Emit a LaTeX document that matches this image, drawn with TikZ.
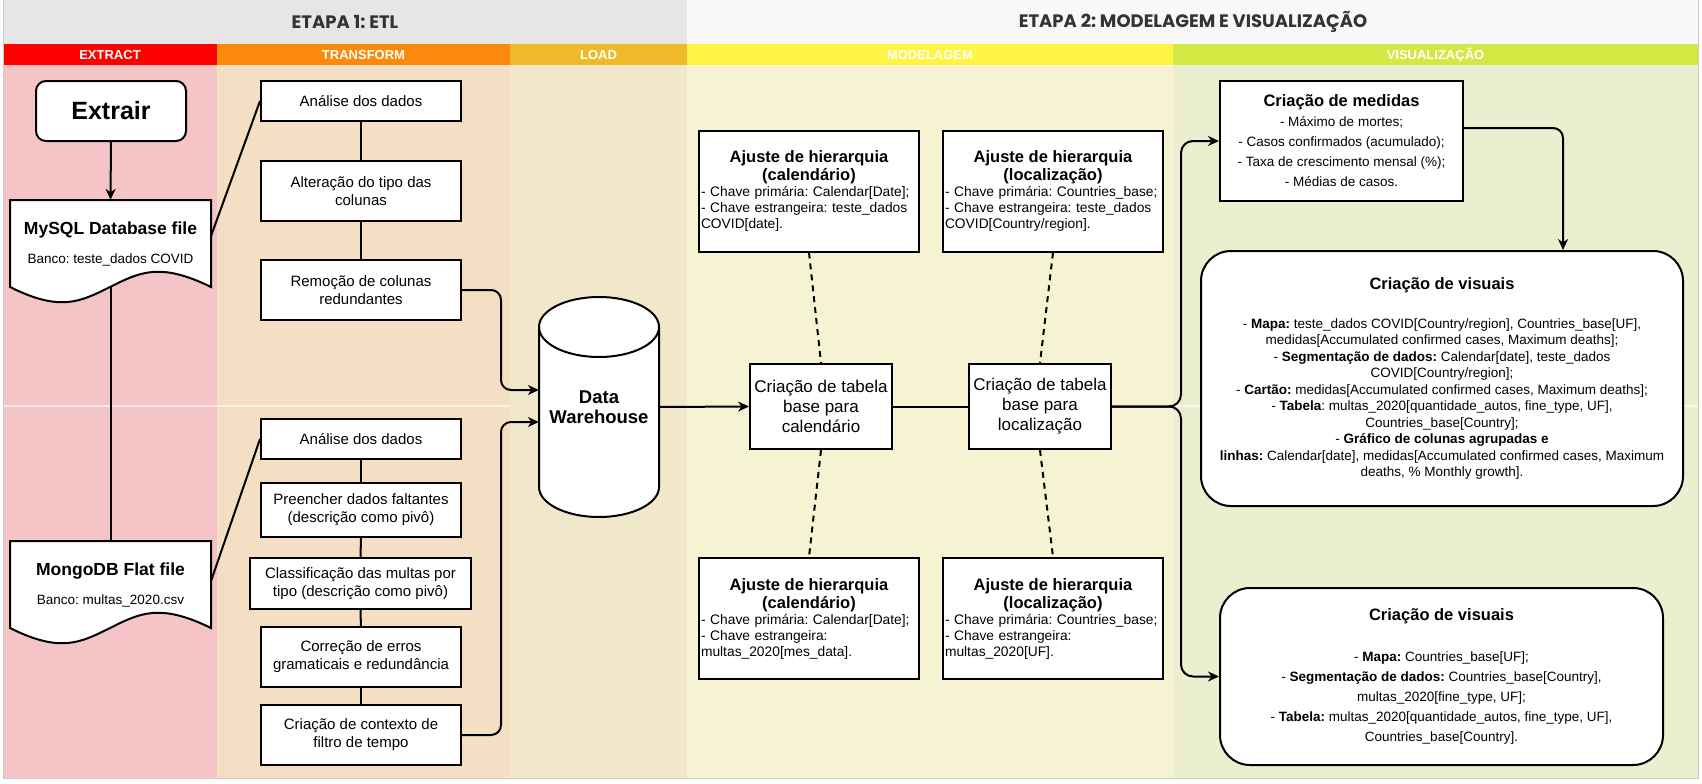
\documentclass[tikz,border=0pt]{standalone}
\usepackage{fontspec}
\setmainfont{Liberation Sans}
\newfontfamily\etapafont{Poppins}
\usepackage{xcolor}
\usetikzlibrary{arrows.meta}
\frenchspacing

\definecolor{etapaA}{HTML}{E6E6E6}
\definecolor{etapaB}{HTML}{F8F8F8}
\definecolor{etapaText}{HTML}{333333}
\definecolor{extractTop}{HTML}{FF0000}
\definecolor{extractBg}{HTML}{F5C4C6}
\definecolor{transformTop}{HTML}{FA890C}
\definecolor{transformBg}{HTML}{F4DFC5}
\definecolor{loadTop}{HTML}{EFB92B}
\definecolor{loadBg}{HTML}{F1E8CB}
\definecolor{modelTop}{HTML}{FFF443}
\definecolor{modelBg}{HTML}{F6F3D3}
\definecolor{visTop}{HTML}{D4E845}
\definecolor{visBg}{HTML}{ECEED0}

\begin{document}
\begin{tikzpicture}[x=1pt, y=1pt,
		main/.style={
			line width=2pt,
			color=black
			},
		conn/.style={main, -{Stealth[length=11pt, width=10pt]}},
		link/.style={main, dash pattern=on 6pt off 5pt},
		box/.style={main, draw, fill=white, align=center, inner sep=2pt},
		etlbox/.style={box, minimum width=200pt, font=\fontsize{15}{18}\selectfont},
		ajbox/.style={box, minimum width=220pt, minimum height=121pt, text width=216pt, align=left, font=\fontsize{13.8}{16}\selectfont},
		tabbox/.style={box, minimum width=142pt, minimum height=85pt, font=\fontsize{17}{20}\selectfont},
		visbox/.style={box, rounded corners=30pt, font=\fontsize{13.5}{16.5}\selectfont},
		lanehead/.style={text=white, font=\fontsize{13}{15}\selectfont\bfseries},
		etapa/.style={text=etapaText, font=\etapafont\bfseries\fontsize{18}{22}\selectfont}
		]

		\useasboundingbox (0,0) rectangle (1702,-784);

		\fill[etapaA] (3,0) rectangle (687,-44);
		\fill[etapaB] (687,0) rectangle (1698,-44);
		\path (345,-22) node[etapa] (etapa1) {ETAPA 1: ETL};
		\path (1193,-22) node[etapa] (etapa2) {ETAPA 2: MODELAGEM E VISUALIZAÇÃO};

		\foreach \xa/\xb/\col/\lbl in {3/217/extract/EXTRACT, 217/510/transform/TRANSFORM, 510/687/load/LOAD, 687/1173/model/MODELAGEM, 1173/1698/vis/VISUALIZAÇÃO} {
			\fill[fill=\col Top] (\xa,-44) rectangle (\xb,-66);
			\fill[fill=\col Bg] (\xa,-66) rectangle (\xb,-778);
			\path ({(\xa+\xb)/2},-55) node[lanehead] (head-\col) {\lbl};
			\draw[white, opacity=0.7, line width=1pt] (\xb,-44) -- (\xb,-778) (\xa,-66) -- (\xb,-66);
		}
		\draw[white, opacity=0.6, line width=1.2pt] (3,-406) -- (510,-406) (1173,-406) -- (1698,-406);
		\draw[gray!40, line width=1pt] (3,0) rectangle (1698,-778);

		\node[box, rounded corners=10pt, minimum width=150pt, minimum height=60pt, font=\fontsize{25}{30}\selectfont\bfseries] (extrair) at (111,-111) {Extrair};

		\foreach \yy in {200,541}
			\draw[main, fill=white] (10,-\yy) -- (211,-\yy) -- (211,{-\yy-87}) .. controls (160,{-\yy-62}) and (140,{-\yy-72}) .. (110,{-\yy-87}) .. controls (80,{-\yy-102}) and (60,{-\yy-112}) .. (10,{-\yy-87}) -- cycle;
		\node[align=center, minimum width=201pt, minimum height=87pt, font=\fontsize{13.5}{16}\selectfont] (mysql) at (110.5,-243.5) {{\fontsize{17.5}{21}\selectfont\bfseries MySQL Database file}\\[13pt]Banco: teste\_dados COVID};
		\node[align=center, minimum width=201pt, minimum height=87pt, font=\fontsize{13.5}{16}\selectfont] (mongo) at (110.5,-584.5) {{\fontsize{17.5}{21}\selectfont\bfseries MongoDB Flat file}\\[13pt]Banco: multas\_2020.csv};

		\node[etlbox, minimum height=40pt] (ta1) at (361,-101) {Análise dos dados};
		\node[etlbox, minimum height=60pt] (ta2) at (361,-191) {Alteração do tipo das\\colunas};
		\node[etlbox, minimum height=60pt] (ta3) at (361,-290) {Remoção de colunas\\redundantes};
		\node[etlbox, minimum height=40pt] (tb1) at (361,-439) {Análise dos dados};
		\node[etlbox, minimum height=54pt] (tb2) at (361,-510) {Preencher dados faltantes\\(descrição como pivô)};
		\node[etlbox, minimum width=221pt, minimum height=51pt] (tb3) at (360.5,-583.5) {Classificação das multas por\\tipo (descrição como pivô)};
		\node[etlbox, minimum height=60pt] (tb4) at (361,-657) {Correção de erros\\gramaticais e redundância};
		\node[etlbox, minimum height=60pt] (tb5) at (361,-735) {Criação de contexto de\\filtro de tempo};

		\draw[main, fill=white] (539,-327) -- (539,-487) arc[start angle=180, end angle=360, x radius=60, y radius=30] -- (659,-327) arc[start angle=0, end angle=180, x radius=60, y radius=30] -- cycle;
		\draw[main] (539,-327) arc[start angle=180, end angle=360, x radius=60, y radius=30];
		\node[align=center, minimum width=120pt, minimum height=220pt, font=\fontsize{18.5}{20}\selectfont\bfseries] (dw) at (599,-407) {Data\\Warehouse};

		\node[ajbox] (ajcal1) at (809,-191) {{\centering\fontsize{16.5}{18}\selectfont\bfseries Ajuste de hierarquia\\(calendário)\par}- Chave primária: Calendar[Date];\\- Chave estrangeira: teste\_dados\\COVID[date].};
		\node[ajbox] (ajloc1) at (1053,-191) {{\centering\fontsize{16.5}{18}\selectfont\bfseries Ajuste de hierarquia\\(localização)\par}- Chave primária: Countries\_base;\\- Chave estrangeira: teste\_dados\\COVID[Country/region].};
		\node[tabbox] (tcal) at (821,-406.5) {Criação de tabela\\base para\\calendário};
		\node[tabbox] (tloc) at (1040,-406.5) {Criação de tabela\\base para\\localização};
		\node[ajbox] (ajcal2) at (809,-618.5) {{\centering\fontsize{16.5}{18}\selectfont\bfseries Ajuste de hierarquia\\(calendário)\par}- Chave primária: Calendar[Date];\\- Chave estrangeira:\\multas\_2020[mes\_data].};
		\node[ajbox] (ajloc2) at (1053,-618.5) {{\centering\fontsize{16.5}{18}\selectfont\bfseries Ajuste de hierarquia\\(localização)\par}- Chave primária: Countries\_base;\\- Chave estrangeira:\\multas\_2020[UF].};

		\node[box, minimum width=243pt, minimum height=120pt, font=\fontsize{13.5}{20}\selectfont] (medidas) at (1341.5,-141) {{\fontsize{16.5}{20}\selectfont\bfseries Criação de medidas}\\- Máximo de mortes;\\- Casos confirmados (acumulado);\\- Taxa de crescimento mensal (\%);\\- Médias de casos.};
		\node[visbox, minimum width=482pt, minimum height=255pt] (vis1) at (1442,-378.5) {{\fontsize{16.5}{20}\selectfont\bfseries Criação de visuais}\\[22pt]- \textbf{Mapa:} teste\_dados COVID[Country/region], Countries\_base[UF],\\medidas[Accumulated confirmed cases, Maximum deaths];\\- \textbf{Segmentação de dados:} Calendar[date], teste\_dados\\COVID[Country/region];\\- \textbf{Cartão:} medidas[Accumulated confirmed cases, Maximum deaths];\\- \textbf{Tabela}: multas\_2020[quantidade\_autos, fine\_type, UF],\\Countries\_base[Country];\\- \textbf{Gráfico de colunas agrupadas e}\\\textbf{linhas:} Calendar[date], medidas[Accumulated confirmed cases, Maximum\\deaths, \% Monthly growth].};
		\node[visbox, minimum width=443pt, minimum height=177pt, font=\fontsize{13.5}{20}\selectfont] (vis2) at (1441.5,-676.5) {{\fontsize{16.5}{20}\selectfont\bfseries Criação de visuais}\\[21pt]- \textbf{Mapa:} Countries\_base[UF];\\- \textbf{Segmentação de dados:} Countries\_base[Country],\\multas\_2020[fine\_type, UF];\\- \textbf{Tabela:} multas\_2020[quantidade\_autos, fine\_type, UF],\\Countries\_base[Country].};

		\draw[conn] (extrair.south) -- (mysql.north);
		\draw[main] ([yshift=8pt]mysql.east) -- (ta1.west);
		\draw[main] (mysql.south) -- (mongo.north);
		\draw[main] ([yshift=4pt]mongo.east) -- (tb1.west);
		\foreach \a/\b in {ta1/ta2, ta2/ta3, tb1/tb2, tb2/tb3, tb3/tb4, tb4/tb5}
			\draw[main] (\a) -- (\b);
		\draw[conn, rounded corners=10pt] (ta3.east) -- ++(39,0) |- ([yshift=17pt]dw.west);
		\draw[conn, rounded corners=10pt] (tb5.east) -- ++(39,0) |- ([yshift=-15pt]dw.west);
		\draw[conn] (dw.east) -- (tcal.west);
		\draw[main] (tcal) -- (tloc);
		\foreach \a/\b in {ajcal1/tcal, ajloc1/tloc, tcal/ajcal2, tloc/ajloc2}
			\draw[link] (\a.south) -- (\b.north);
		\draw[conn, rounded corners=12pt] (tloc.east) -- ++(69,0) |- (medidas.west);
		\draw[conn, rounded corners=12pt] (tloc.east) -- ++(69,0) |- (vis2.west);
		\draw[conn, rounded corners=10pt] ([yshift=13pt]medidas.east) -| ([xshift=121pt]vis1.north);

	\end{tikzpicture}
\end{document}
